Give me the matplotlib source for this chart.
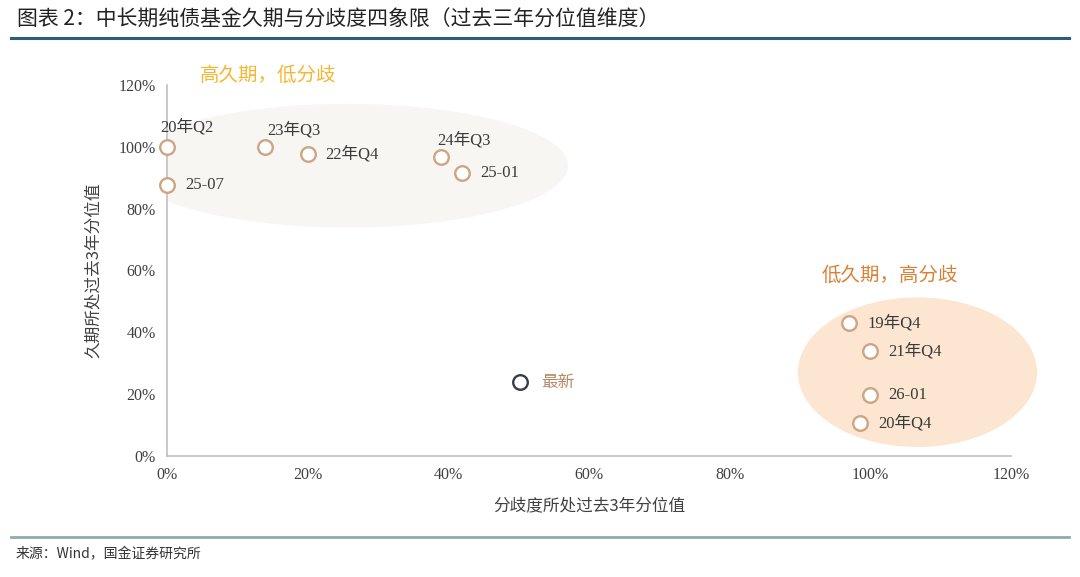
import matplotlib
matplotlib.use("Agg")
import matplotlib.pyplot as plt
from matplotlib.patches import Ellipse
from matplotlib.ticker import PercentFormatter

CJK = "Noto Sans CJK SC"
MIX = ["Liberation Serif", "Noto Sans CJK SC"]

# --- data: (分歧度分位, 久期分位) ---
labels = ["20年Q2", "25-07", "23年Q3", "22年Q4", "24年Q3", "25-01",
          "19年Q4", "21年Q4", "26-01", "20年Q4"]
x_vals = [0.00, 0.00, 0.14, 0.20, 0.39, 0.42, 0.97, 1.00, 1.00, 0.985]
y_vals = [1.00, 0.877, 1.00, 0.977, 0.968, 0.916, 0.429, 0.339, 0.197, 0.106]
latest_label = "最新"
latest_x = [0.502]
latest_y = [0.239]

# label placement (offset in points, horizontal alignment)
label_pos = {
    "20年Q2": ((-5, 14), "left"),
    "23年Q3": ((1, 12), "left"),
    "24年Q3": ((-3, 12), "left"),
}

fig = plt.figure(figsize=(10.8, 5.77), dpi=100)
ax = fig.add_axes([0.1546, 0.2097, 0.7815, 0.643])

# background ellipses for the two quadrants
ax.add_patch(Ellipse((0.257, 0.939), 0.626, 0.40, facecolor="#f8f6f3",
                     edgecolor="none", zorder=0))
ax.add_patch(Ellipse((1.067, 0.271), 0.34, 0.484, facecolor="#fce6d2",
                     edgecolor="none", zorder=0, clip_on=False))

ax.scatter(x_vals, y_vals, s=110, facecolors="white", edgecolors="#cda585",
           linewidths=1.7, zorder=3, clip_on=False)
ax.scatter(latest_x, latest_y, s=110, facecolors="white", edgecolors="#363d4a",
           linewidths=1.7, zorder=3)

for lab, x, y in zip(labels, x_vals, y_vals):
    off, ha = label_pos.get(lab, ((13, 0), "left"))
    ax.annotate(lab, (x, y), xytext=off, textcoords="offset points",
                ha=ha, va="center", fontsize=12, color="#3a3a3a",
                family=MIX, zorder=4)
ax.annotate(latest_label, (latest_x[0], latest_y[0]), xytext=(15, 0),
            textcoords="offset points", ha="left", va="center",
            fontsize=12, color="#b5896a", family=CJK)

ax.set_xlim(0, 1.2)
ax.set_ylim(0, 1.2)
ax.set_xticks([0, 0.2, 0.4, 0.6, 0.8, 1.0, 1.2])
ax.set_yticks([0, 0.2, 0.4, 0.6, 0.8, 1.0, 1.2])
ax.xaxis.set_major_formatter(PercentFormatter(1.0, decimals=0))
ax.yaxis.set_major_formatter(PercentFormatter(1.0, decimals=0))
ax.tick_params(length=0, labelsize=11.5, labelcolor="#404040", pad=8)
for t in ax.get_xticklabels() + ax.get_yticklabels():
    t.set_family("Liberation Serif")
for s in ["top", "right"]:
    ax.spines[s].set_visible(False)
for s in ["left", "bottom"]:
    ax.spines[s].set_color("#c0c0c0")
    ax.spines[s].set_linewidth(1.2)
ax.set_facecolor("none")

ax.set_xlabel("分歧度所处过去3年分位值", family=CJK, fontsize=12,
              color="#404040", labelpad=10)
ax.set_ylabel("久期所处过去3年分位值", family=CJK, fontsize=12,
              color="#404040", labelpad=12)

# quadrant captions
fig.text(0.185, 0.87, "高久期，低分歧", family=CJK, fontsize=14,
         color="#f5b731", style="italic", va="center")
fig.text(0.761, 0.523, "低久期，高分歧", family=CJK, fontsize=14,
         color="#d98236", style="italic", va="center")

# title, rules and source
fig.text(0.016, 0.966, "图表 2：中长期纯债基金久期与分歧度四象限（过去三年分位值维度）",
         family=CJK, fontsize=15, color="#222222", style="italic", va="center")
fig.add_artist(plt.Line2D([0.01, 0.99], [0.934, 0.934], color="#2e5c7a",
                          linewidth=2.2, transform=fig.transFigure))
fig.add_artist(plt.Line2D([0.01, 0.99], [0.069, 0.069], color="#8ea8b7",
                          linewidth=2.0, transform=fig.transFigure))
fig.text(0.014, 0.04, "来源：Wind，国金证券研究所", family=CJK, fontsize=10,
         color="#333333", va="center")

fig.savefig("out.png", dpi=100, facecolor="white")
